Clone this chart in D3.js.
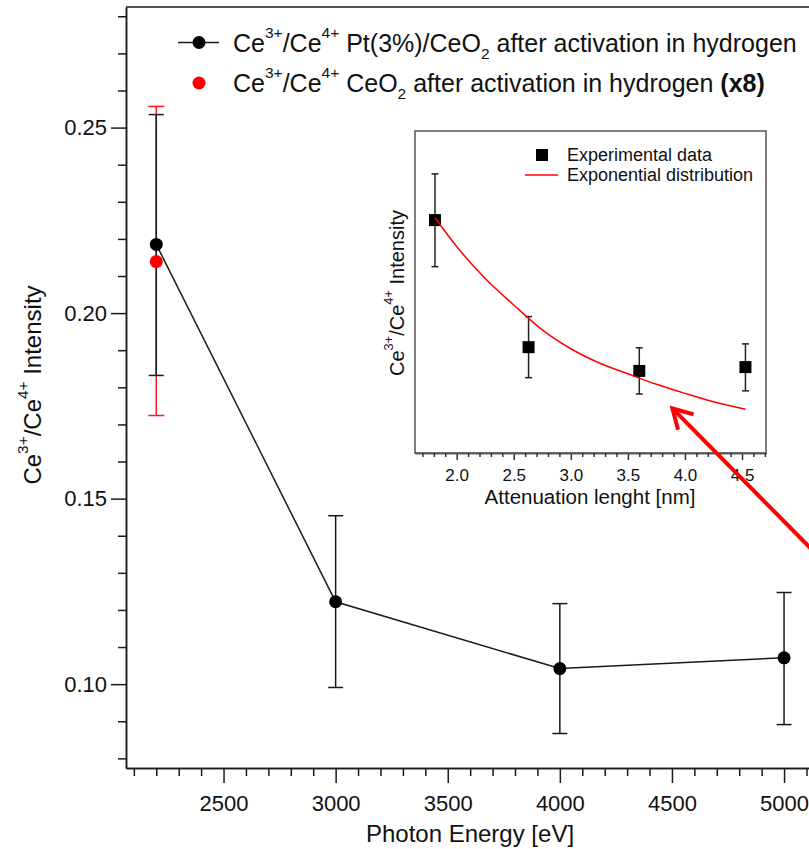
<!DOCTYPE html>
<html>
<head>
<meta charset="utf-8">
<script src="https://cdn.jsdelivr.net/npm/d3@7"></script>
<style>
  body { margin: 0; background: #fff; }
  svg { display: block; }
  text { font-family: "Liberation Sans", Arial, Helvetica, sans-serif; fill: #111; }
</style>
</head>
<body>
<svg id="chart" width="809" height="849"></svg>
<script>
// Ce3+/Ce4+ ratio of Pt(3%)/CeO2 vs. photon energy
const photonEnergy = [2200, 3000, 4000, 5000];
const ratioPt      = [0.2185, 0.1222, 0.1042, 0.1071];
const ratioPtHigh  = [0.2535, 0.1454, 0.1217, 0.1247];
const ratioPtLow   = [0.1832, 0.0991, 0.0867, 0.0891];

// Bare CeO2 reference (scaled x8)
const ceo2Energy    = [2200];
const ratioCeO2     = [0.2139];
const ratioCeO2High = [0.2557];
const ratioCeO2Low  = [0.1724];

const xTickValues = [2500, 3000, 3500, 4000, 4500, 5000];
const yTickValues = [0.10, 0.15, 0.20, 0.25];

// Inset: same ratios against attenuation length
const attenuationLength = [1.81, 2.63, 3.60, 4.53];
const fitLength = [1.81, 2.0, 2.25, 2.5, 2.75, 3.0, 3.25, 3.5, 3.75, 4.0, 4.25, 4.53];
const fitRatio  = [0.2203, 0.1985, 0.1742, 0.1542, 0.1353, 0.1210, 0.1102, 0.1020, 0.0941, 0.0872, 0.0808, 0.0751];
const insetTickValues = [2.0, 2.5, 3.0, 3.5, 4.0, 4.5];

const svg = d3.select("#chart");
const ink = "#1a1a1a";

// ---------- main plot ----------
const x = d3.scaleLinear().domain([2065, 5200]).range([126, 828.9]);
const y = d3.scaleLinear().domain([0.0774, 0.2825]).range([768, 7]);

const main = svg.append("g");

// minor ticks
const xMinor = d3.range(2100, 5201, 100).filter(v => v % 500 !== 0);
const yMinor = d3.range(8, 29).map(v => v / 100).filter(v => Math.round(v * 100) % 5 !== 0);

main.append("g").attr("transform", "translate(126,0)")
  .call(d3.axisLeft(y).tickValues(yTickValues).tickSize(15).tickSizeOuter(0)
    .tickPadding(4).tickFormat(d3.format(".2f")));
main.append("g").attr("transform", "translate(126,0)")
  .call(d3.axisLeft(y).tickValues(yMinor).tickSize(8).tickSizeOuter(0).tickFormat(""));

main.append("g").attr("transform", "translate(0,768)")
  .call(d3.axisBottom(x).tickValues(xTickValues).tickSize(15).tickSizeOuter(0)
    .tickPadding(12).tickFormat(d3.format("d")));
main.append("g").attr("transform", "translate(0,768)")
  .call(d3.axisBottom(x).tickValues(xMinor).tickSize(8).tickSizeOuter(0).tickFormat(""));

main.selectAll(".domain").attr("stroke", ink).attr("stroke-width", 1.5);
main.selectAll(".tick line").attr("stroke", ink).attr("stroke-width", 1.5);
main.selectAll(".tick text").attr("font-size", 22).attr("fill", ink)
  .attr("font-family", "'Liberation Sans', Arial, sans-serif");

// top frame line
main.append("line")
  .attr("x1", x.range()[0]).attr("x2", x.range()[1])
  .attr("y1", y.range()[1]).attr("y2", y.range()[1])
  .attr("stroke", ink).attr("stroke-width", 1.5);

// helper: text with super/subscripts, parts = [[str, "n"|"sup"|"sub", weight], ...]
function richText(sel, parts, size, extra, supScale = 0.64) {
  const t = sel.append("text").attr("font-size", size);
  if (extra) extra(t);
  let shift = 0;
  parts.forEach(([s, kind, weight]) => {
    const small = kind !== "n";
    const target = kind === "sup" ? -0.55 * size : kind === "sub" ? 0.28 * size : 0;
    t.append("tspan")
      .attr("font-size", small ? size * supScale : size)
      .attr("font-weight", weight || null)
      .attr("dy", target - shift)
      .text(s);
    shift = target;
  });
  return t;
}
const ratioLabel = [["Ce", "n"], ["3+", "sup"], ["/Ce", "n"], ["4+", "sup"]];

// axis titles
richText(main, ratioLabel.concat([[" Intensity", "n"]]), 24, t =>
  t.attr("text-anchor", "middle").attr("transform", "translate(41,385) rotate(-90)"));
main.append("text").attr("x", 470).attr("y", 842).attr("text-anchor", "middle")
  .attr("font-size", 24).text("Photon Energy [eV]");

// error bars
function errorBars(g, xs, lo, hi, sx, sy, cap, color, width) {
  xs.forEach((xv, i) => {
    const px = sx(xv);
    g.append("line").attr("x1", px).attr("x2", px).attr("y1", sy(lo[i])).attr("y2", sy(hi[i]))
      .attr("stroke", color).attr("stroke-width", width);
    [lo[i], hi[i]].forEach(v => g.append("line")
      .attr("x1", px - cap / 2).attr("x2", px + cap / 2).attr("y1", sy(v)).attr("y2", sy(v))
      .attr("stroke", color).attr("stroke-width", width));
  });
}

errorBars(main, ceo2Energy, ratioCeO2Low, ratioCeO2High, x, y, 16, "#ff1a1a", 1.5);
errorBars(main, photonEnergy, ratioPtLow, ratioPtHigh, x, y, 15, ink, 1.5);

const ptPoints = photonEnergy.map((e, i) => [e, ratioPt[i]]);
main.append("path").datum(ptPoints)
  .attr("d", d3.line().x(d => x(d[0])).y(d => y(d[1])))
  .attr("fill", "none").attr("stroke", ink).attr("stroke-width", 1.5);
main.selectAll("circle.pt").data(ptPoints).join("circle").attr("class", "pt")
  .attr("cx", d => x(d[0])).attr("cy", d => y(d[1])).attr("r", 6.5).attr("fill", "#000");
main.selectAll("circle.ceo2").data(ceo2Energy.map((e, i) => [e, ratioCeO2[i]])).join("circle")
  .attr("class", "ceo2")
  .attr("cx", d => x(d[0])).attr("cy", d => y(d[1])).attr("r", 6.5).attr("fill", "#ff0000");

// legend
const leg = main.append("g");
leg.append("line").attr("x1", 178).attr("x2", 219).attr("y1", 42.5).attr("y2", 42.5)
  .attr("stroke", ink).attr("stroke-width", 1.5);
leg.append("circle").attr("cx", 199).attr("cy", 42.5).attr("r", 6.5).attr("fill", "#000");
leg.append("circle").attr("cx", 199).attr("cy", 83).attr("r", 6.5).attr("fill", "#ff0000");
richText(leg, ratioLabel.concat([[" Pt(3%)/CeO", "n"], ["2", "sub"], [" after activation in hydrogen", "n"]]), 25,
  t => t.attr("x", 233).attr("y", 51.5), 0.62);
richText(leg, ratioLabel.concat([[" CeO", "n"], ["2", "sub"], [" after activation in hydrogen ", "n"], ["(x8)", "n", "bold"]]), 25,
  t => t.attr("x", 233).attr("y", 92), 0.62);

// ---------- inset ----------
const ix = d3.scaleLinear().domain([1.635, 4.71]).range([415, 766]);
const iy = d3.scaleLinear().domain([0.042, 0.286]).range([453, 131]);
const inset = svg.append("g");

inset.append("rect").attr("x", 415).attr("y", 131).attr("width", 351).attr("height", 322)
  .attr("fill", "#fff").attr("stroke", "#555").attr("stroke-width", 1.5);

const insetMinor = d3.range(17, 48).map(v => v / 10).filter(v => Math.round(v * 10) % 5 !== 0);
inset.append("g").attr("transform", "translate(0,453)")
  .call(d3.axisBottom(ix).tickValues(insetTickValues).tickSize(7).tickSizeOuter(0)
    .tickPadding(9).tickFormat(d3.format(".1f")));
inset.append("g").attr("transform", "translate(0,453)")
  .call(d3.axisBottom(ix).tickValues(insetMinor).tickSize(4).tickSizeOuter(0).tickFormat(""));
inset.selectAll(".domain").attr("stroke", "#555").attr("stroke-width", 1.5);
inset.selectAll(".tick line").attr("stroke", "#333").attr("stroke-width", 1.5);
inset.selectAll(".tick text").attr("font-size", 17).attr("fill", ink)
  .attr("font-family", "'Liberation Sans', Arial, sans-serif");

inset.append("text").attr("x", 590).attr("y", 504).attr("text-anchor", "middle")
  .attr("font-size", 20.5).text("Attenuation lenght [nm]");
richText(inset, ratioLabel.concat([[" Intensity", "n"]]), 20, t =>
  t.attr("text-anchor", "middle").attr("transform", "translate(404,293) rotate(-90)"));

errorBars(inset, attenuationLength, ratioPtLow, ratioPtHigh, ix, iy, 7, "#222", 1.5);
inset.selectAll("rect.sq").data(attenuationLength.map((a, i) => [a, ratioPt[i]])).join("rect")
  .attr("class", "sq")
  .attr("x", d => ix(d[0]) - 6).attr("y", d => iy(d[1]) - 6).attr("width", 12).attr("height", 12)
  .attr("fill", "#000");

inset.append("path").datum(fitLength.map((a, i) => [a, fitRatio[i]]))
  .attr("d", d3.line().x(d => ix(d[0])).y(d => iy(d[1])).curve(d3.curveMonotoneX))
  .attr("fill", "none").attr("stroke", "#ff0000").attr("stroke-width", 1.5);

// inset legend
inset.append("rect").attr("x", 536).attr("y", 149).attr("width", 12).attr("height", 12).attr("fill", "#000");
inset.append("text").attr("x", 567).attr("y", 160.5).attr("font-size", 18).text("Experimental data");
inset.append("line").attr("x1", 525).attr("x2", 558).attr("y1", 175).attr("y2", 175)
  .attr("stroke", "#ff0000").attr("stroke-width", 1.5);
inset.append("text").attr("x", 567).attr("y", 181).attr("font-size", 18).text("Exponential distribution");

// ---------- arrow pointing at the fitted curve ----------
const arrowTip  = [4502, 0.1743];
const arrowTail = [5250, 0.1286];
const tip = [x(arrowTip[0]), y(arrowTip[1])];
const tail = [x(arrowTail[0]), y(arrowTail[1])];
const ang = Math.atan2(tail[1] - tip[1], tail[0] - tip[0]);
const headLen = 22, spread = 0.52;
const arrow = svg.append("g").attr("stroke", "#ff0000").attr("stroke-width", 4)
  .attr("stroke-linecap", "butt").attr("fill", "none");
arrow.append("line").attr("x1", tail[0]).attr("y1", tail[1]).attr("x2", tip[0]).attr("y2", tip[1]);
arrow.append("path").attr("stroke-linejoin", "miter")
  .attr("d", d3.line()([
    [tip[0] + headLen * Math.cos(ang - spread), tip[1] + headLen * Math.sin(ang - spread)],
    tip,
    [tip[0] + headLen * Math.cos(ang + spread), tip[1] + headLen * Math.sin(ang + spread)]
  ]));
</script>
</body>
</html>
